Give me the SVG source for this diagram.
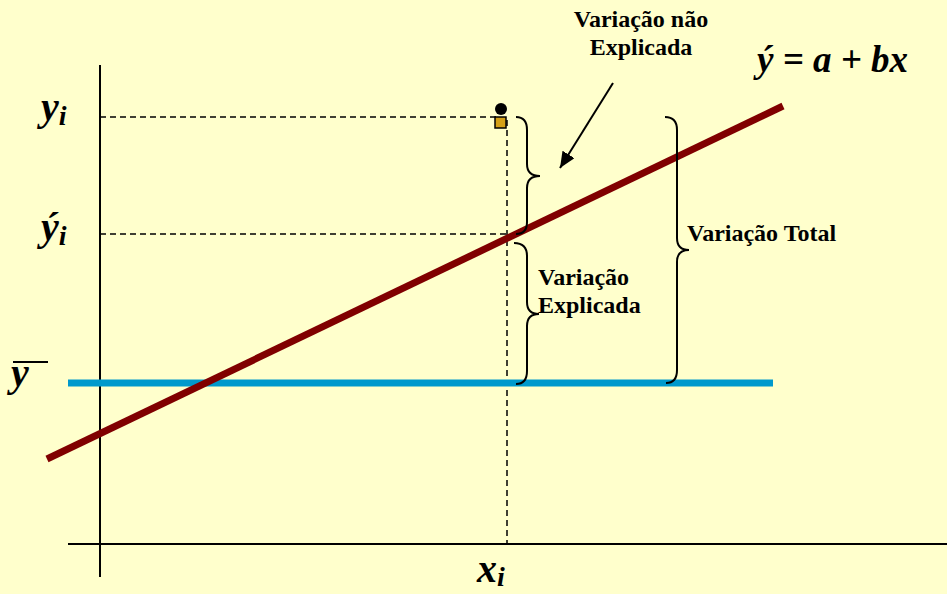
<svg xmlns="http://www.w3.org/2000/svg" width="947" height="594" viewBox="0 0 947 594">
<defs>
<style>
text{font-family:'Liberation Serif',serif}
.lbl{font-weight:bold;font-size:24px;fill:#000}
.math{font-weight:bold;font-style:italic;fill:#000}
.dash{stroke:#000;stroke-width:1.5;stroke-dasharray:6,4;fill:none}
.brace{stroke:#000;stroke-width:2;fill:none}
.axis{stroke:#000;stroke-width:2}
</style>
<marker id="ah" markerWidth="16" markerHeight="14" refX="16" refY="7" orient="auto" markerUnits="userSpaceOnUse" viewBox="0 0 16 14">
<path d="M0,0 L16,7 L0,14 z" fill="#000"/>
</marker>
</defs>
<rect width="947" height="594" fill="#FFFFCC"/>
<g id="axes">
<line class="axis" x1="100" y1="65" x2="100" y2="577"/>
<line class="axis" x1="68" y1="544" x2="947" y2="544"/>
</g>
<g id="connectors">
<line class="dash" x1="100" y1="117" x2="500" y2="117"/>
<line class="dash" x1="100" y1="234" x2="510" y2="234"/>
<line class="dash" x1="507" y1="120" x2="507" y2="544"/>
<line x1="68" y1="383" x2="773" y2="383" stroke="#0099CC" stroke-width="7"/>
<line x1="47" y1="459" x2="783" y2="106" stroke="#800000" stroke-width="7"/>
<line x1="613" y1="83" x2="560" y2="168" stroke="#000" stroke-width="2" marker-end="url(#ah)"/>
</g>
<g id="point">
<circle cx="501" cy="109" r="6" fill="#000"/>
<rect x="495" y="117" width="11" height="11" fill="#D4A017" stroke="#000" stroke-width="1.5"/>
</g>
<g id="brace-unexplained">
<path class="brace" d="M516,117 Q527,117 527,130 L527,164 Q527,176 540,176 Q527,176 527,188 L527,222 Q527,234 516,234"/>
</g>
<g id="brace-explained">
<path class="brace" d="M514,243 Q527,243 527,256 L527,302 Q527,314 539,314 Q527,314 527,326 L527,371 Q527,384 516,384"/>
</g>
<g id="brace-total">
<path class="brace" d="M665,117 Q677,117 677,130 L677,238 Q677,250 689,250 Q677,250 677,262 L677,370 Q677,383 666,383"/>
</g>
<g id="labels" font-family="Liberation Serif, serif">
<text class="lbl" x="641" y="27" text-anchor="middle">Variação não</text>
<text class="lbl" x="641" y="55" text-anchor="middle">Explicada</text>
<text class="lbl" x="687" y="241">Variação Total</text>
<text class="lbl" x="538" y="285">Variação</text>
<text class="lbl" x="538" y="313">Explicada</text>
<text class="math" x="757" y="72" font-size="37">ý = a + bx</text>
<text class="math" x="41" y="120" font-size="40">y<tspan font-size="28" dy="5">i</tspan></text>
<text class="math" x="41" y="240" font-size="40">ý<tspan font-size="28" dy="5">i</tspan></text>
<text class="math" x="11" y="386" font-size="40">y</text>
<line x1="13" y1="362" x2="48" y2="362" stroke="#000" stroke-width="2"/>
<text class="math" x="477" y="582" font-size="40">x<tspan font-size="28" dy="4">i</tspan></text>
</g>
</svg>
